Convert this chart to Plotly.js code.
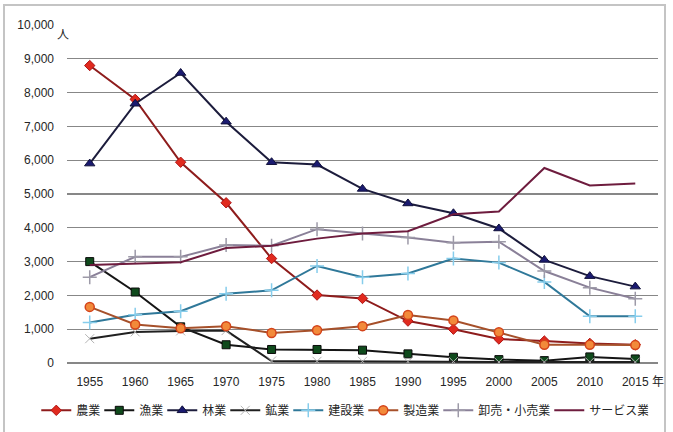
<!DOCTYPE html>
<html>
<head>
<meta charset="utf-8">
<script src="https://cdn.plot.ly/plotly-3.0.1.min.js"></script>
<style>
  html, body { margin: 0; padding: 0; background: #fff; }
  #wrap { position: relative; width: 673px; height: 432px; }
  #chart { position: absolute; left: 0; top: 0; width: 673px; height: 432px; }
  #frame { position: absolute; left: 3px; top: 4px; width: 663px; height: 440px;
           border: 2px solid #c4c4c4; pointer-events: none; box-sizing: border-box; }
</style>
</head>
<body>
<div id="wrap">
  <div id="chart"></div>
  <div id="frame"></div>
</div>
<script>
// 産業別就業者数の推移（人）
const years = ['1955','1960','1965','1970','1975','1980','1985','1990','1995','2000','2005','2010','2015'];

const agriculture   = [8800, 7800, 5940, 4740, 3090, 2010, 1910, 1240, 1000, 710, 650, 580, 540];
const fishery       = [3000, 2100, 1070, 540, 400, 400, 380, 270, 170, 100, 70, 180, 120];
const forestry      = [5900, 7670, 8580, 7140, 5940, 5870, 5150, 4720, 4430, 3980, 3050, 2570, 2260];
const mining        = [720, 920, 950, 960, 60, 50, 50, 40, 40, 30, 30, 30, 30];
const construction  = [1200, 1430, 1530, 2050, 2150, 2870, 2540, 2650, 3090, 2970, 2400, 1380, 1380];
const manufacturing = [1660, 1140, 1030, 1090, 890, 970, 1090, 1420, 1260, 910, 540, 540, 530];
const wholesale     = [2540, 3140, 3140, 3490, 3470, 3960, 3830, 3710, 3560, 3590, 2720, 2230, 1900];
const services      = [2900, 2930, 2980, 3400, 3470, 3680, 3830, 3900, 4400, 4480, 5770, 5250, 5310];

const names = ['農業', '漁業', '林業', '鉱業', '建設業', '製造業', '卸売・小売業', 'サービス業'];

const legendFontSize = 12;

function series(name, y, lineColor, marker) {
  const t = {
    type: 'scatter', mode: marker ? 'lines+markers' : 'lines',
    name: name, x: years, y: y,
    line: { color: lineColor, width: 2 },
    // keep the legend on one row: entry width a little under the label width
    legendwidth: name.length * legendFontSize - 6
  };
  if (marker) t.marker = marker;
  return t;
}

const traces = [
  series(names[0], agriculture, '#8e1c1c',
    { symbol: 'diamond', size: 8, color: '#e02a1e', line: { color: '#b01515', width: 1 } }),
  series(names[1], fishery, '#151515',
    { symbol: 'square', size: 8, color: '#0f4a1c', line: { color: '#0a0a0a', width: 1 } }),
  series(names[2], forestry, '#1c1c3c',
    { symbol: 'triangle-up', size: 9, color: '#1a1a70', line: { color: '#10103a', width: 1 } }),
  series(names[3], mining, '#202020',
    { symbol: 'x-thin', size: 9, color: '#b4b4b4', line: { color: '#b4b4b4', width: 1 } }),
  series(names[4], construction, '#2f7899',
    { symbol: 'cross-thin', size: 10, color: '#86cdec', line: { color: '#86cdec', width: 1.5 } }),
  series(names[5], manufacturing, '#a6502a',
    { symbol: 'circle', size: 9, color: '#f28a3a', line: { color: '#d4431a', width: 1.5 } }),
  series(names[6], wholesale, '#8a8098',
    { symbol: 'cross-thin', size: 10, color: '#9d9aa8', line: { color: '#9d9aa8', width: 1.5 } }),
  series(names[7], services, '#6e1c3e', null)
];

const tickFont = { family: '"Liberation Sans", "Noto Sans CJK JP", sans-serif', size: 12, color: '#262626' };
const cjkFont = { family: '"Noto Sans CJK JP", sans-serif', size: 12, color: '#262626' };

const layout = {
  width: 673, height: 432,
  margin: { l: 67, r: 15, t: 25, b: 68.5, autoexpand: false },
  paper_bgcolor: '#fff', plot_bgcolor: '#fff',
  showlegend: true,
  font: tickFont,
  xaxis: {
    type: 'category', range: [-0.5, 12.5],
    showgrid: false, zeroline: false, showline: false,
    ticks: '', ticklabelstandoff: 10, tickfont: tickFont
  },
  yaxis: {
    range: [0, 10000], dtick: 1000, tickformat: ',d',
    showgrid: true, gridcolor: '#878787', gridwidth: 1.3,
    zeroline: true, zerolinecolor: '#878787', zerolinewidth: 1.3,
    showline: false, ticks: '', ticklabelstandoff: 12, tickfont: tickFont
  },
  legend: {
    orientation: 'h', x: -0.052, xanchor: 'left', y: -0.14, yanchor: 'middle',
    font: Object.assign({}, cjkFont, { size: legendFontSize }),
    itemwidth: 30, tracegroupgap: 0, bgcolor: 'rgba(0,0,0,0)'
  },
  annotations: [
    { text: '人', xref: 'paper', yref: 'paper', x: -0.007, xanchor: 'center',
      y: 0.976, yanchor: 'middle', showarrow: false, font: cjkFont },
    { text: '年', xref: 'paper', yref: 'paper', x: 0.987, xanchor: 'left',
      y: -0.052, yanchor: 'middle', showarrow: false, font: cjkFont }
  ]
};

Plotly.newPlot('chart', traces, layout, { displayModeBar: false, staticPlot: true });
</script>
</body>
</html>
